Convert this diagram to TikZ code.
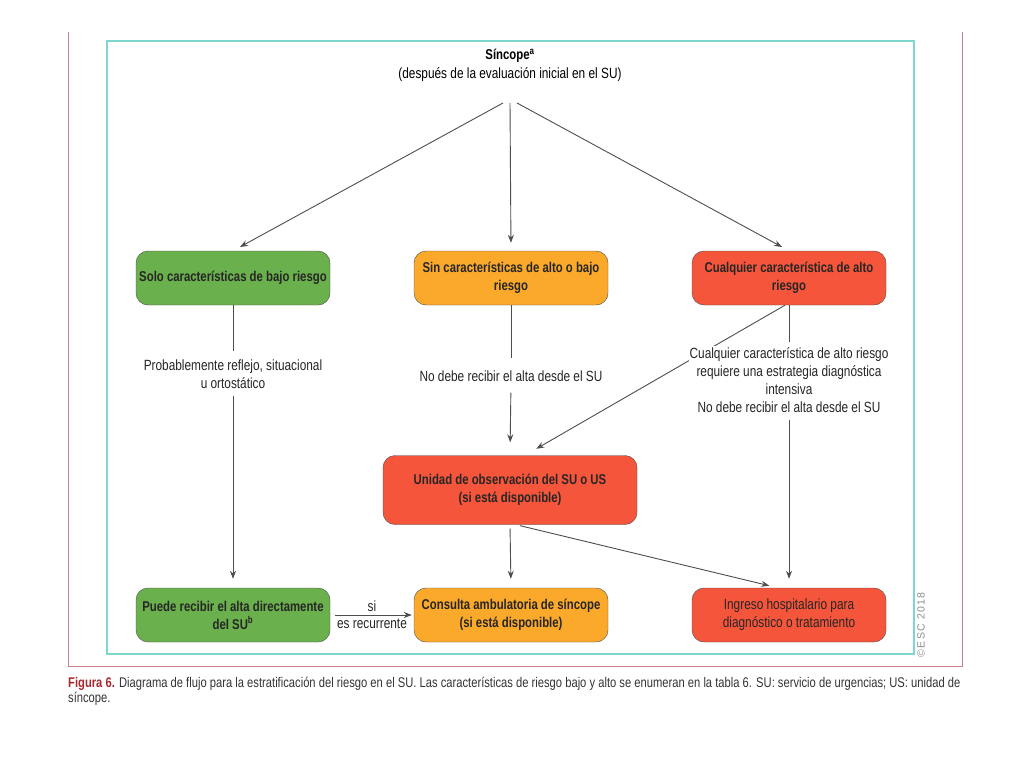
\documentclass[tikz,border=0pt]{standalone}
\usepackage{fontspec}
\setmainfont[FakeStretch=0.8]{Liberation Sans}
\newfontfamily\escfont[LetterSpace=12]{Liberation Sans}
\usetikzlibrary{arrows.meta}
\definecolor{bajo}{HTML}{6AB04C}
\definecolor{medio}{HTML}{FBA92B}
\definecolor{alto}{HTML}{F4553B}
\definecolor{marco}{HTML}{7FD6CF}
\definecolor{pagina}{HTML}{C98089}
\definecolor{rotulo}{HTML}{A8282E}
\definecolor{trazo}{HTML}{4D4D4D}
\begin{document}
\begin{tikzpicture}[x=1pt,y=-1pt,
    font=\fontsize{14.8}{18}\selectfont,
    caja/.style={draw=trazo, rounded corners=12pt, minimum width=194pt,
      minimum height=54pt, align=center, text=black!85, inner sep=2pt,
      font=\fontsize{14.2}{18}\selectfont\bfseries},
    nota/.style={align=center, fill=white, inner sep=1pt, text=black!85},
    flecha/.style={-{Stealth[length=8pt,width=6pt]}, trazo, line width=0.9pt},
    linea/.style={trazo, line width=0.9pt}]
  \useasboundingbox (0,0) rectangle (1024,768);
  % page and frame
  \draw [pagina, line width=1pt] (68,32) -- (68,666) -- (962,666) -- (962,32);
  \draw [marco, line width=2pt] (107,41) rectangle (914,654);

  \node [font=\fontsize{14.2}{18}\selectfont\bfseries] (sincope) at (510,56) {Síncope\textsuperscript{a}};
  \node (inicial) at (510,75) {(después de la evaluación inicial en el SU)};
  \coordinate (origen) at (510,103);

  % first row
  \node [caja, fill=bajo] (bajo) at (233,278) {Solo características de bajo riesgo};
  \node [caja, fill=medio] (medio) at (511,278) {Sin características de alto o bajo\\riesgo};
  \node [caja, fill=alto] (alto) at (789,278) {Cualquier característica de alto\\riesgo};

  \draw [flecha, shorten >=8pt] ([xshift=-7pt]origen) -- (bajo.north);
  \draw [flecha, shorten >=8pt] (origen) -- (medio.north);
  \draw [flecha, shorten >=8pt] ([xshift=7pt]origen) -- (alto.north);

  % observation unit
  \node [caja, fill=alto, minimum width=254pt, minimum height=69pt] (obs) at (510,490)
    {Unidad de observación del SU o US\\(si está disponible)};

  % last row
  \node [caja, fill=bajo] (alta) at (233,615) {Puede recibir el alta directamente\\del SU\textsuperscript{b}};
  \node [caja, fill=medio] (consulta) at (511,615) {Consulta ambulatoria de síncope\\(si está disponible)};
  \node [caja, fill=alto, font=\fontsize{14.8}{18}\selectfont] (ingreso) at (789,615)
    {Ingreso hospitalario para\\diagnóstico o tratamiento};

  \draw [flecha, shorten >=13pt] ([xshift=-4pt]alto.south) -- ([xshift=15pt]obs.north);

  % notes on the paths
  \node [nota] (bajonota) at (233,374) {Probablemente reflejo, situacional\\u ortostático};
  \node [nota] (medionota) at (511,376) {No debe recibir el alta desde el SU};
  \node [nota] (altonota) at (789,380) {Cualquier característica de alto riesgo\\requiere una estrategia diagnóstica\\intensiva\\No debe recibir el alta desde el SU};

  \draw [linea, shorten >=7pt] (bajo.south) -- (bajonota.north);
  \draw [flecha, shorten <=6pt, shorten >=9pt] (bajonota.south) -- (alta.north);
  \draw [linea, shorten >=11pt] (medio.south) -- (medionota.north);
  \draw [flecha, shorten <=10pt, shorten >=13pt] (medionota.south) -- (obs.north);
  \draw [linea, shorten >=4pt] (alto.south) -- (altonota.north);
  \draw [flecha, shorten <=6pt, shorten >=9pt] (altonota.south) -- (ingreso.north);

  \draw [flecha, shorten <=4pt, shorten >=9pt] (obs.south) -- (consulta.north);
  \draw [flecha, shorten <=4pt, shorten >=9pt] ([xshift=6pt]obs.south) -- ([xshift=-11pt]ingreso.north);
  \draw [flecha, shorten <=5pt, shorten >=2pt] (alta.east) -- (consulta.east -| consulta.west)
    node [midway, above, text=black!85] (si) {si}
    node [midway, below, text=black!85] (recurrente) {es recurrente};

  % caption and credit
  \node [rotate=90, text=black!45, font=\escfont\fontsize{10.5}{11}\selectfont] (esc) at (921,625) {©ESC 2018};
  \node [anchor=north west, align=left, inner sep=0pt, text=black!80,
    font=\fontsize{14}{15}\selectfont] (leyenda) at (68,677)
    {\textcolor{rotulo}{\bfseries Figura 6.} Diagrama de flujo para la estratificación del riesgo en el SU. Las características de riesgo bajo y alto se enumeran en la tabla 6. SU: servicio de urgencias; US: unidad de\\síncope.};
\end{tikzpicture}
\end{document}
